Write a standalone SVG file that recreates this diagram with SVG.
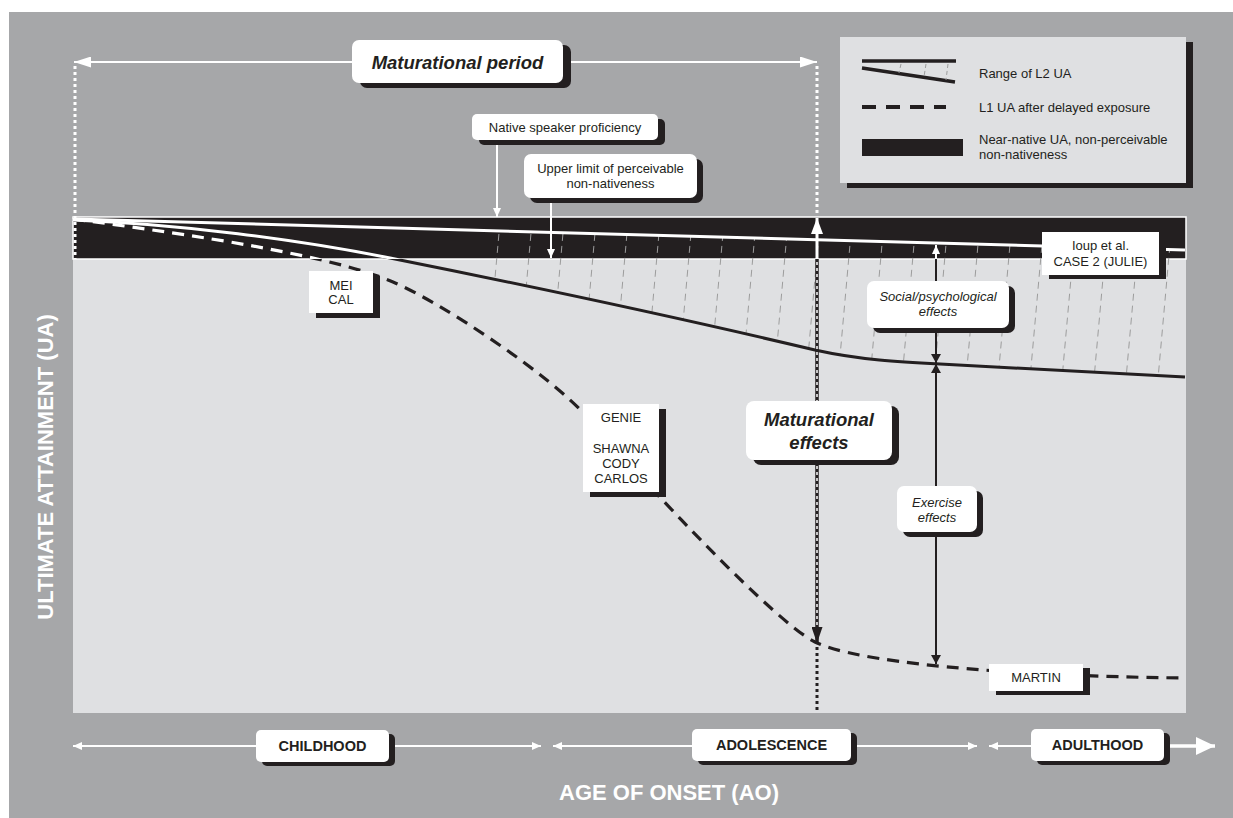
<svg xmlns="http://www.w3.org/2000/svg" width="1233" height="818" viewBox="0 0 1233 818">
<defs>
<style>
text{font-family:"Liberation Sans",Arial,sans-serif;fill:#231f20;text-anchor:middle}
.lbl{font-size:13px}
.it{font-style:italic}
.big{font-size:18.5px;font-weight:bold;font-style:italic}
.ax{font-size:14.5px;font-weight:bold}
.ttl{font-size:22px;font-weight:bold;fill:#fff}
.box{fill:#fff}
.sh{fill:#231f20}
.dotw{stroke:#fff;stroke-width:3;stroke-dasharray:3 3;fill:none}
.dotb{stroke:#231f20;stroke-width:3;stroke-dasharray:3 3;fill:none}
.wl{stroke:#fff;stroke-width:2;fill:none}
.bl{stroke:#231f20;stroke-width:2;fill:none}
.hatch{stroke:#9c9c9c;stroke-width:1;stroke-dasharray:7 5;fill:none}
.dash{stroke:#231f20;stroke-width:3.2;stroke-dasharray:12 8;fill:none}
.solid{stroke:#231f20;stroke-width:3;fill:none}
</style>
<marker id="aw" viewBox="0 0 9 8" refX="9" refY="4" markerWidth="9" markerHeight="8" markerUnits="userSpaceOnUse" orient="auto-start-reverse"><path d="M0,0 L9,4 L0,8 z" fill="#fff"/></marker>
<marker id="awL" viewBox="0 0 17 11" refX="17" refY="5.5" markerWidth="17" markerHeight="11" markerUnits="userSpaceOnUse" orient="auto-start-reverse"><path d="M0,0 L17,5.5 L0,11 z" fill="#fff"/></marker>
<marker id="awB" viewBox="0 0 19 18" refX="19" refY="9" markerWidth="19" markerHeight="18" markerUnits="userSpaceOnUse" orient="auto-start-reverse"><path d="M0,0 L19,9 L0,18 z" fill="#fff"/></marker>
<marker id="awU" viewBox="0 0 16 12" refX="16" refY="6" markerWidth="16" markerHeight="12" markerUnits="userSpaceOnUse" orient="auto-start-reverse"><path d="M0,0 L16,6 L0,12 z" fill="#fff"/></marker>
<marker id="ab" viewBox="0 0 9 10" refX="9" refY="5" markerWidth="9" markerHeight="10" markerUnits="userSpaceOnUse" orient="auto-start-reverse"><path d="M0,0 L9,5 L0,10 z" fill="#231f20"/></marker>
<marker id="abL" viewBox="0 0 16 11" refX="16" refY="5.5" markerWidth="16" markerHeight="11" markerUnits="userSpaceOnUse" orient="auto-start-reverse"><path d="M0,0 L16,5.5 L0,11 z" fill="#231f20"/></marker>
<clipPath id="bandClip"><rect x="73" y="217" width="1113" height="42"/></clipPath>
<clipPath id="hatchClip"><path d="M390,258 C500,280 680,318 815,350 C860,360 900,362 940,364 L1185,377 L1185,250 L390,228 Z"/></clipPath>
</defs>

<!-- background -->
<rect x="9" y="12" width="1224" height="806" fill="#a6a7a9"/>
<rect x="73" y="217" width="1113" height="496" fill="#dfe0e2"/>
<rect x="73" y="217" width="1113" height="42" fill="#231f20" stroke="#fff" stroke-width="1.5"/>

<!-- hatching -->
<g id="hatching" clip-path="url(#hatchClip)">
<path class="hatch" d="M500,222 L485,390 M532,222 L517,390 M564,222 L549,390 M596,222 L581,390 M628,222 L613,390 M660,222 L645,390 M692,222 L677,390 M724,222 L709,390 M756,222 L741,390 M788,222 L773,390 M820,222 L805,390 M852,222 L837,390 M884,222 L869,390 M916,222 L901,390 M948,222 L933,390 M980,222 L965,390 M1012,222 L997,390 M1044,222 L1029,390 M1076,222 L1061,390 M1108,222 L1093,390 M1140,222 L1125,390 M1172,222 L1157,390"/>
</g>

<!-- curves -->
<g id="curves">
<path id="lowerRange" class="solid" d="M73,220 C180,224 300,240 390,258 C500,280 680,318 815,350 C860,360 900,362 940,364 L1185,377"/>
<path id="l1curve" class="dash" d="M73,219 C200,236 330,255 393,282 C440,302 550,374 590,420 C650,489 775,622 815,642 C855,662 1000,676 1185,678"/>
<g clip-path="url(#bandClip)">
<path class="solid" stroke="#fff" style="stroke:#fff" d="M73,220 C180,224 300,240 390,258 C500,280 680,318 815,350"/>
<path class="dash" style="stroke:#fff" d="M73,219 C200,236 330,255 393,282 C440,302 550,374 590,420"/>
</g>
<line id="upperRange" x1="73" y1="219" x2="1185" y2="250" stroke="#fff" stroke-width="3"/>
</g>

<!-- connectors -->
<g id="connectors">
<!-- maturational period -->
<line class="wl" x1="352" y1="62" x2="74" y2="62" marker-end="url(#awL)"/>
<line class="wl" x1="563" y1="62" x2="817" y2="62" marker-end="url(#awL)"/>
<line class="dotw" x1="75" y1="66" x2="75" y2="259"/>
<line class="dotw" x1="817" y1="66" x2="817" y2="214"/>
<!-- maturational effects -->
<line x1="817" y1="259" x2="817" y2="218" stroke="#fff" stroke-width="3" marker-end="url(#awU)"/>
<line x1="817" y1="259" x2="817" y2="643" stroke="#231f20" stroke-width="3.5" marker-end="url(#abL)"/>
<line x1="817" y1="262" x2="817" y2="626" stroke="#fff" stroke-width="1.5" stroke-dasharray="3 3"/>
<line class="dotb" x1="817" y1="647" x2="817" y2="713"/>
<!-- native speaker / upper limit -->
<line class="wl" x1="497" y1="145" x2="497" y2="217" marker-end="url(#aw)"/>
<line class="wl" x1="551" y1="203" x2="551" y2="258" marker-end="url(#aw)"/>
<!-- social / exercise -->
<line class="wl" x1="936" y1="259" x2="936" y2="245" marker-end="url(#aw)"/>
<line class="bl" x1="936" y1="259" x2="936" y2="363" marker-end="url(#ab)"/>
<line class="bl" x1="936" y1="364" x2="936" y2="664" marker-start="url(#ab)" marker-end="url(#ab)"/>
<!-- bottom axis -->
<line class="wl" x1="73" y1="746" x2="541" y2="746" marker-start="url(#aw)" marker-end="url(#aw)"/>
<line class="wl" x1="553" y1="746" x2="977" y2="746" marker-start="url(#aw)" marker-end="url(#aw)"/>
<line class="wl" x1="1031" y1="746" x2="989" y2="746" marker-end="url(#aw)"/>
<line x1="1164" y1="746" x2="1215" y2="746" stroke="#fff" stroke-width="3.5" marker-end="url(#awB)"/>
</g>

<!-- nodes -->
<g id="maturational-period">
<rect class="sh" x="360" y="45" width="211" height="43" rx="7"/>
<rect class="box" x="352" y="40" width="211" height="43" rx="7"/>
<text class="big" x="457.5" y="69">Maturational period</text>
</g>
<g id="native-speaker">
<rect class="sh" x="479" y="119" width="186" height="26" rx="5"/>
<rect class="box" x="472" y="114" width="186" height="26" rx="5"/>
<text class="lbl" x="565" y="132">Native speaker proficiency</text>
</g>
<g id="upper-limit">
<rect class="sh" x="530" y="159" width="173" height="44" rx="7"/>
<rect class="box" x="524" y="154" width="173" height="44" rx="7"/>
<text class="lbl" x="610.5" y="173">Upper limit of perceivable</text>
<text class="lbl" x="610.5" y="188">non-nativeness</text>
</g>
<g id="mei-cal">
<rect class="sh" x="316" y="276" width="64" height="42"/>
<rect class="box" x="309" y="271" width="64" height="42"/>
<text class="lbl" x="341" y="290">MEI</text>
<text class="lbl" x="341" y="304">CAL</text>
</g>
<g id="genie">
<rect class="sh" x="590" y="409" width="76" height="88"/>
<rect class="box" x="583" y="404" width="76" height="88"/>
<text class="lbl" x="621" y="422">GENIE</text>
<text class="lbl" x="621" y="453">SHAWNA</text>
<text class="lbl" x="621" y="468">CODY</text>
<text class="lbl" x="621" y="483">CARLOS</text>
</g>
<g id="maturational-effects">
<rect class="sh" x="753" y="406" width="146" height="59" rx="8"/>
<rect class="box" x="746" y="401" width="146" height="59" rx="8"/>
<text class="big" x="819" y="426">Maturational</text>
<text class="big" x="819" y="449">effects</text>
</g>
<g id="ioup">
<rect class="sh" x="1049" y="236" width="117" height="43"/>
<rect class="box" x="1042" y="232" width="117" height="43"/>
<text class="lbl" x="1100.5" y="250">Ioup et al.</text>
<text class="lbl" x="1100.5" y="266">CASE 2 (JULIE)</text>
</g>
<g id="social-psych">
<rect class="sh" x="873" y="286" width="142" height="47" rx="7"/>
<rect class="box" x="867" y="281" width="142" height="47" rx="7"/>
<text class="lbl it" x="938" y="301">Social/psychological</text>
<text class="lbl it" x="938" y="316">effects</text>
</g>
<g id="exercise">
<rect class="sh" x="903" y="491" width="80" height="46" rx="7"/>
<rect class="box" x="897" y="486" width="80" height="46" rx="7"/>
<text class="lbl it" x="937" y="507">Exercise</text>
<text class="lbl it" x="937" y="522">effects</text>
</g>
<g id="martin">
<rect class="sh" x="996" y="668" width="94" height="27"/>
<rect class="box" x="989" y="664" width="94" height="27"/>
<text class="lbl" x="1036" y="682">MARTIN</text>
</g>

<g id="legend">
<rect class="sh" x="847" y="42" width="346" height="146"/>
<rect x="840" y="37" width="346" height="146" fill="#dfe0e2"/>
<line x1="862" y1="61" x2="956" y2="61" stroke="#231f20" stroke-width="3.5"/>
<line x1="862" y1="68" x2="955" y2="82" stroke="#231f20" stroke-width="3.5"/>
<path d="M901,64 L899,73 M926,64 L924,77 M948,64 L946,80" stroke="#9c9c9c" stroke-width="1" stroke-dasharray="4 3"/>
<line x1="862" y1="107" x2="946" y2="107" stroke="#231f20" stroke-width="4" stroke-dasharray="14 10"/>
<rect x="862" y="139" width="101" height="17" fill="#231f20"/>
<text class="lbl" x="979" y="78" style="text-anchor:start">Range of L2 UA</text>
<text class="lbl" x="979" y="112" style="text-anchor:start">L1 UA after delayed  exposure</text>
<text class="lbl" x="979" y="144" style="text-anchor:start">Near-native UA, non-perceivable</text>
<text class="lbl" x="979" y="159" style="text-anchor:start">non-nativeness</text>
</g>

<g id="childhood">
<rect class="sh" x="262" y="734" width="133" height="32" rx="5"/>
<rect class="box" x="256" y="730" width="133" height="32" rx="5"/>
<text class="ax" x="322.5" y="751">CHILDHOOD</text>
</g>
<g id="adolescence">
<rect class="sh" x="698" y="733" width="159" height="32" rx="5"/>
<rect class="box" x="692" y="729" width="159" height="32" rx="5"/>
<text class="ax" x="771.5" y="750">ADOLESCENCE</text>
</g>
<g id="adulthood">
<rect class="sh" x="1037" y="733" width="133" height="32" rx="5"/>
<rect class="box" x="1031" y="729" width="133" height="32" rx="5"/>
<text class="ax" x="1097.5" y="750">ADULTHOOD</text>
</g>

<g id="axis-titles">
<text class="ttl" x="669" y="800">AGE OF ONSET (AO)</text>
<text class="ttl" transform="translate(53,467) rotate(-90)">ULTIMATE ATTAINMENT (UA)</text>
</g>
</svg>
